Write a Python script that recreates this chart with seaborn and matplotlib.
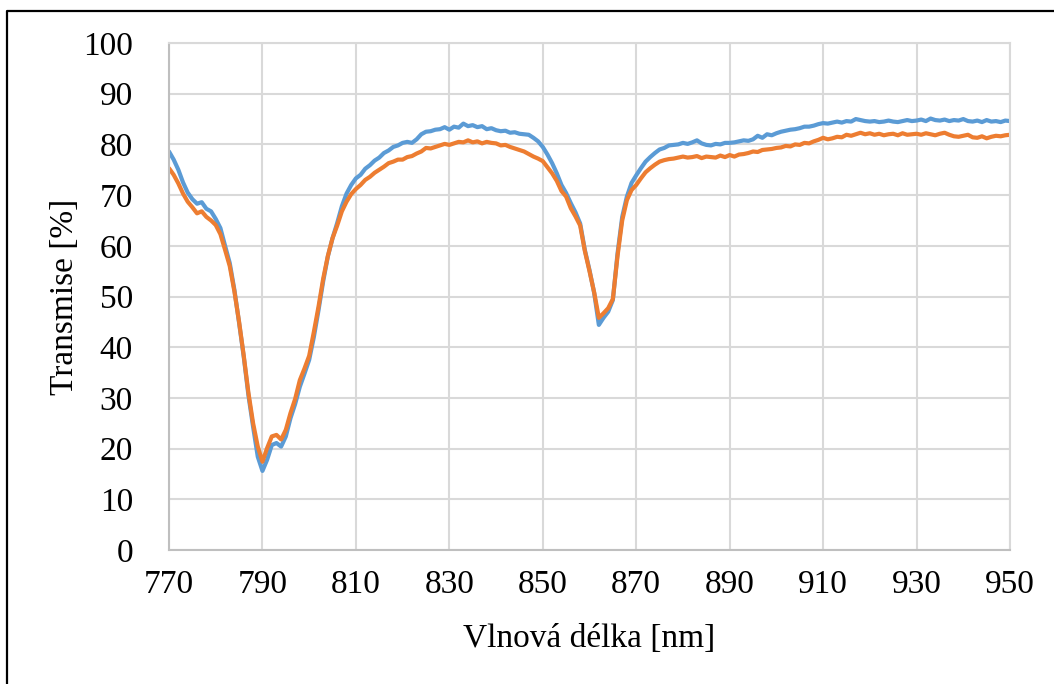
import numpy as np
import pandas as pd
import matplotlib
matplotlib.use("Agg")
import matplotlib.pyplot as plt
from matplotlib.lines import Line2D
import seaborn as sns

wavelength = list(range(770, 951))

blue = [
    78.6, 77.0, 75.0, 72.5, 70.5, 69.2, 68.3, 68.6, 67.3, 66.8,  # 770-779
    65.3, 63.5, 60.0, 56.6, 51.3, 44.8, 38.1, 30.5, 24.3, 18.4,  # 780-789
    15.6, 17.8, 20.7, 21.1, 20.4, 22.4, 26.0, 28.8, 32.2, 34.8,  # 790-799
    37.5, 42.0, 47.3, 53.0, 57.9, 61.5, 64.5, 67.8, 70.3, 72.0,  # 800-809
    73.3, 74.0, 75.2, 75.9, 76.8, 77.4, 78.3, 78.8, 79.5, 79.8,  # 810-819
    80.3, 80.5, 80.3, 81.0, 82.0, 82.5, 82.6, 82.9, 83.0, 83.4,  # 820-829
    82.9, 83.5, 83.3, 84.1, 83.6, 83.8, 83.4, 83.6, 83.0, 83.2,  # 830-839
    82.8, 82.6, 82.7, 82.3, 82.4, 82.1, 82.0, 81.9, 81.3, 80.6,  # 840-849
    79.5, 78.0, 76.3, 74.3, 72.0, 70.4, 68.4, 66.6, 64.4, 59.2,  # 850-859
    55.2, 50.7, 44.4, 45.8, 47.0, 49.3, 58.5, 65.7, 69.7, 72.4,  # 860-869
    73.9, 75.3, 76.6, 77.5, 78.3, 79.0, 79.3, 79.8, 79.9, 80.0,  # 870-879
    80.3, 80.1, 80.4, 80.8, 80.2, 79.9, 79.8, 80.1, 80.0, 80.3,  # 880-889
    80.3, 80.4, 80.6, 80.8, 80.7, 81.0, 81.7, 81.3, 82.0, 81.8,  # 890-899
    82.2, 82.5, 82.7, 82.9, 83.0, 83.2, 83.5, 83.5, 83.7, 84.0,  # 900-909
    84.2, 84.1, 84.3, 84.5, 84.3, 84.6, 84.5, 85.0, 84.8, 84.6,  # 910-919
    84.5, 84.6, 84.4, 84.5, 84.7, 84.5, 84.4, 84.6, 84.8, 84.6,  # 920-929
    84.7, 84.9, 84.6, 85.1, 84.8, 84.7, 84.9, 84.6, 84.8, 84.7,  # 930-939
    85.0, 84.6, 84.5, 84.7, 84.4, 84.8, 84.5, 84.6, 84.4, 84.7,  # 940-949
    84.6,                                                        # 950
]

orange = [
    75.3, 74.0, 72.3, 70.3, 68.7, 67.6, 66.4, 66.8, 65.7, 65.0,  # 770-779
    64.1, 62.3, 59.2, 56.0, 51.0, 45.0, 38.3, 31.0, 25.0, 20.4,  # 780-789
    17.4, 20.1, 22.4, 22.7, 21.8, 23.7, 27.0, 29.8, 33.5, 35.8,  # 790-799
    38.3, 43.0, 48.0, 53.5, 58.0, 61.5, 64.0, 66.8, 68.7, 70.2,  # 800-809
    71.2, 72.0, 73.0, 73.6, 74.4, 75.0, 75.6, 76.3, 76.6, 77.0,  # 810-819
    77.0, 77.5, 77.7, 78.2, 78.6, 79.3, 79.2, 79.5, 79.8, 80.1,  # 820-829
    79.9, 80.2, 80.5, 80.4, 80.8, 80.4, 80.6, 80.2, 80.5, 80.3,  # 830-839
    80.2, 79.8, 79.9, 79.5, 79.2, 78.9, 78.6, 78.1, 77.6, 77.2,  # 840-849
    76.7, 75.5, 74.3, 72.8, 70.8, 69.7, 67.4, 65.8, 64.0, 59.0,  # 850-859
    55.0, 50.8, 45.8, 46.7, 47.7, 49.5, 58.0, 65.0, 69.0, 71.0,  # 860-869
    72.0, 73.3, 74.5, 75.3, 76.0, 76.6, 76.9, 77.1, 77.2, 77.4,  # 870-879
    77.6, 77.4, 77.5, 77.7, 77.3, 77.6, 77.5, 77.4, 77.8, 77.5,  # 880-889
    77.9, 77.6, 78.0, 78.1, 78.3, 78.6, 78.5, 78.9, 79.0, 79.1,  # 890-899
    79.3, 79.4, 79.7, 79.6, 80.0, 79.9, 80.3, 80.2, 80.6, 80.9,  # 900-909
    81.3, 81.0, 81.2, 81.5, 81.4, 81.9, 81.7, 82.0, 82.3, 82.0,  # 910-919
    82.2, 81.9, 82.1, 81.8, 82.0, 82.1, 81.8, 82.2, 81.9, 82.0,  # 920-929
    82.1, 81.9, 82.2, 82.0, 81.8, 82.1, 82.3, 81.9, 81.6, 81.5,  # 930-939
    81.7, 81.9, 81.4, 81.3, 81.6, 81.2, 81.5, 81.7, 81.6, 81.8,  # 940-949
    81.9,                                                        # 950
]

x_ticks = list(range(770, 951, 20))
y_ticks = list(range(0, 101, 10))

df = pd.DataFrame({
    "wl": wavelength * 2,
    "T": blue + orange,
    "series": ["A"] * len(blue) + ["B"] * len(orange),
})

sns.set_theme(style="whitegrid")
plt.rcParams["font.family"] = ["Liberation Serif", "DejaVu Serif"]

fig = plt.figure(figsize=(10.54, 6.84), dpi=100)
ax = fig.add_axes([169 / 1054, 1 - 550 / 684, (1010 - 169) / 1054, (550 - 43) / 684])

sns.lineplot(data=df, x="wl", y="T", hue="series",
             palette={"A": "#5B9BD5", "B": "#ED7D31"},
             linewidth=3.0, legend=False, ax=ax, estimator=None)

ax.set_xlim(770, 950)
ax.set_ylim(0, 100)
ax.set_xticks(x_ticks)
ax.set_yticks(y_ticks)
ax.set_xticklabels([str(v) for v in x_ticks])
ax.set_yticklabels([str(v) for v in y_ticks])
ax.tick_params(axis="both", labelsize=24, colors="black", length=0)
ax.tick_params(axis="x", pad=14)
ax.tick_params(axis="y", pad=26)
ax.grid(True, color="#D9D9D9", linewidth=1.5)
ax.set_axisbelow(True)
for side, sp in ax.spines.items():
    sp.set_color("#D9D9D9")
    sp.set_linewidth(1.5)
ax.spines["left"].set_color("#BFBFBF")
ax.spines["bottom"].set_color("#BFBFBF")

ax.set_xlabel("Vlnová délka [nm]", fontsize=24, color="black", labelpad=17)
ax.set_ylabel("Transmise [%]", fontsize=24, color="black", labelpad=2)

# outer frame (left and top edges visible)
xl = 6.5 / 1054
yt = 1 - 10.5 / 684
fig.add_artist(Line2D([xl, xl, 1.0], [0.0, yt, yt], transform=fig.transFigure,
                      color="black", linewidth=1.6))

fig.savefig("out.png", dpi=100, facecolor="white")
